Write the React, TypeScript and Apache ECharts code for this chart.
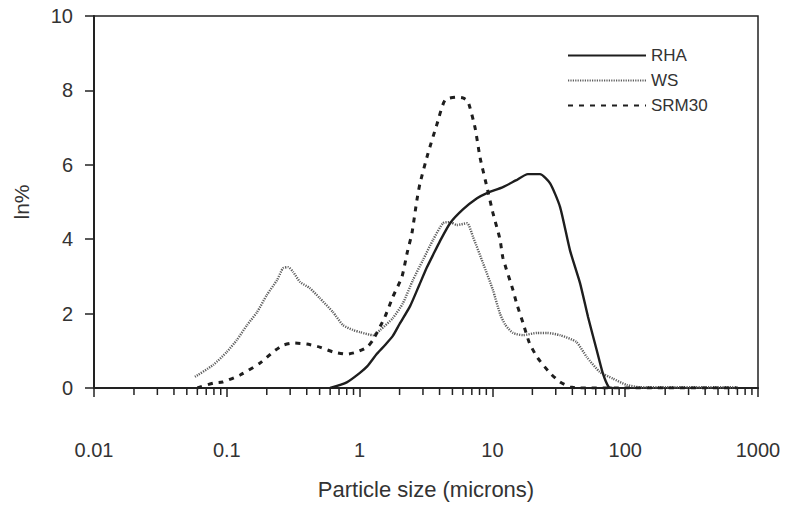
import React, { useEffect, useRef } from "react";
import * as echarts from "echarts";

const seriesNames = ["RHA", "WS", "SRM30"];

const rhaData: [number, number][] = [
  [0.6, 0], [0.8, 0.15], [1.0, 0.4], [1.14, 0.58], [1.35, 0.92], [1.55, 1.15],
  [1.78, 1.4], [2.0, 1.72], [2.4, 2.2], [2.8, 2.75], [3.22, 3.25], [3.6, 3.6],
  [4.03, 3.95], [4.8, 4.43], [6.0, 4.8], [7.66, 5.1], [9.1, 5.24], [12, 5.4],
  [15, 5.58], [18.5, 5.75], [22.8, 5.75], [27.2, 5.5], [32.3, 4.87], [38.4, 3.7],
  [45.7, 2.82], [52.5, 1.91], [61.4, 0.98], [67.8, 0.4], [75, 0.03], [80, 0],
];

const wsData: [number, number][] = [
  [0.0575, 0.3], [0.079, 0.62], [0.1, 0.97], [0.119, 1.29], [0.142, 1.69],
  [0.169, 2.04], [0.2, 2.5], [0.239, 2.9], [0.265, 3.22], [0.29, 3.25],
  [0.316, 3.12], [0.356, 2.85], [0.42, 2.69], [0.5, 2.42], [0.63, 2.04],
  [0.75, 1.69], [0.89, 1.56], [1.01, 1.5], [1.26, 1.42], [1.43, 1.56],
  [1.78, 1.88], [2.12, 2.28], [2.52, 2.9], [3.0, 3.44], [3.57, 3.98],
  [4.25, 4.43], [4.8, 4.46], [5.41, 4.38], [6.44, 4.43], [7.15, 4.06],
  [8.49, 3.36], [10.1, 2.63], [11.4, 2.0], [12.5, 1.7], [14.3, 1.48],
  [17, 1.42], [21.7, 1.48], [25.8, 1.48], [32.3, 1.42], [42.8, 1.24],
  [51.4, 0.83], [64.5, 0.43], [81, 0.25], [103, 0.08], [130, 0.02],
  [200, 0.02], [400, 0.02], [700, 0.02],
];

const srmData: [number, number][] = [
  [0.06, 0], [0.079, 0.13], [0.093, 0.16], [0.126, 0.35], [0.178, 0.67],
  [0.223, 0.97], [0.265, 1.15], [0.316, 1.21], [0.4, 1.18], [0.5, 1.1],
  [0.63, 0.97], [0.8, 0.91], [0.96, 0.97], [1.14, 1.1], [1.26, 1.29],
  [1.55, 1.91], [1.78, 2.45], [2.08, 2.98], [2.28, 3.63], [2.48, 4.17],
  [2.7, 5.05], [2.85, 5.5], [3.27, 6.3], [3.83, 7.1], [4.4, 7.74],
  [5.41, 7.82], [6.0, 7.8], [6.55, 7.7], [7.4, 7.0], [8.07, 6.2], [9.1, 5.4],
  [10.1, 4.7], [11.4, 4.0], [12.0, 3.5], [14.3, 2.63], [15.2, 2.28],
  [17, 1.75], [19, 1.21], [21.9, 0.81], [27.2, 0.4], [32.3, 0.16],
  [38.4, 0.03], [45, 0], [700, 0],
];

const xTickLabels = ["0.01", "0.1", "1", "10", "100", "1000"];
const yTicks = [0, 2, 4, 6, 8, 10];
const decades = [0.01, 0.1, 1, 10, 100];
const minorMultipliers = [2, 3, 4, 5, 6, 7, 8, 9];

const FONT = "'Liberation Sans', Arial, sans-serif";

export default function App() {
  const ref = useRef<HTMLDivElement>(null);

  useEffect(() => {
    document.body.style.margin = "0";
    if (!ref.current) return;
    const chart = echarts.init(ref.current, undefined, { renderer: "svg" });

    const minorTicks: number[][] = [];
    decades.forEach((d) =>
      minorMultipliers.forEach((m) => minorTicks.push([parseFloat((d * m).toPrecision(3)), 0]))
    );

    chart.setOption({
      animation: false,
      backgroundColor: "#ffffff",
      textStyle: { fontFamily: FONT },
      grid: {
        left: 94,
        right: 30,
        top: 16,
        bottom: 117,
        show: true,
        borderColor: "#222",
        borderWidth: 1.5,
        backgroundColor: "transparent",
      },
      legend: {
        data: seriesNames,
        orient: "vertical",
        left: 567,
        top: 47,
        padding: 0,
        itemWidth: 78,
        itemHeight: 14,
        itemGap: 8,
        itemStyle: { opacity: 0 },
        textStyle: { fontSize: 17, color: "#333", fontFamily: FONT },
      },
      xAxis: {
        type: "log",
        logBase: 10,
        min: 0.01,
        max: 1000,
        name: "Particle size (microns)",
        nameLocation: "middle",
        nameGap: 90,
        nameTextStyle: { fontSize: 22, color: "#333", fontFamily: FONT },
        axisLine: { show: true, onZero: false, lineStyle: { color: "#222", width: 2 } },
        axisTick: { show: true, inside: false, length: 9, lineStyle: { color: "#222", width: 1.5 } },
        axisLabel: {
          margin: 52,
          fontSize: 20,
          color: "#333",
          fontFamily: FONT,
          formatter: (_v: number, i: number) => xTickLabels[i] ?? "",
        },
        splitLine: { show: false },
      },
      yAxis: {
        type: "value",
        min: 0,
        max: 10,
        interval: 2,
        name: "ln%",
        nameLocation: "middle",
        nameGap: 62,
        nameRotate: 90,
        nameTextStyle: { fontSize: 21, color: "#333", fontFamily: FONT },
        axisLine: { show: true, lineStyle: { color: "#222", width: 2 } },
        axisTick: { show: true, inside: false, length: 9, lineStyle: { color: "#222", width: 1.5 } },
        axisLabel: {
          margin: 21,
          fontSize: 20,
          color: "#333",
          fontFamily: FONT,
          formatter: (v: number) => (yTicks.includes(v) ? String(v) : ""),
        },
        splitLine: { show: false },
      },
      series: [
        {
          name: "RHA",
          type: "line",
          data: rhaData,
          symbol: "none",
          smooth: 0.2,
          lineStyle: { color: "#1e1e1e", width: 2.4, type: "solid" },
          itemStyle: { color: "#1e1e1e" },
          z: 4,
        },
        {
          name: "WS",
          type: "line",
          data: wsData,
          symbol: "none",
          smooth: 0.2,
          lineStyle: { color: "#5e5e5e", width: 2.4, type: [1.2, 1.2] },
          itemStyle: { color: "#5e5e5e" },
          z: 3,
        },
        {
          name: "SRM30",
          type: "line",
          data: srmData,
          symbol: "none",
          smooth: 0.2,
          lineStyle: { color: "#1e1e1e", width: 3, type: [5, 6] },
          itemStyle: { color: "#1e1e1e" },
          z: 5,
        },
        {
          name: "minorTicks",
          type: "custom",
          coordinateSystem: "cartesian2d",
          data: minorTicks,
          clip: false,
          silent: true,
          z: 6,
          renderItem: (_params: any, api: any) => {
            const p = api.coord([api.value(0), 0]);
            return {
              type: "line",
              shape: { x1: p[0], y1: p[1], x2: p[0], y2: p[1] + 7 },
              style: { stroke: "#222", lineWidth: 1.5 },
            };
          },
        },
      ],
    });

    return () => chart.dispose();
  }, []);

  return <div ref={ref} style={{ width: 788, height: 505 }} />;
}
